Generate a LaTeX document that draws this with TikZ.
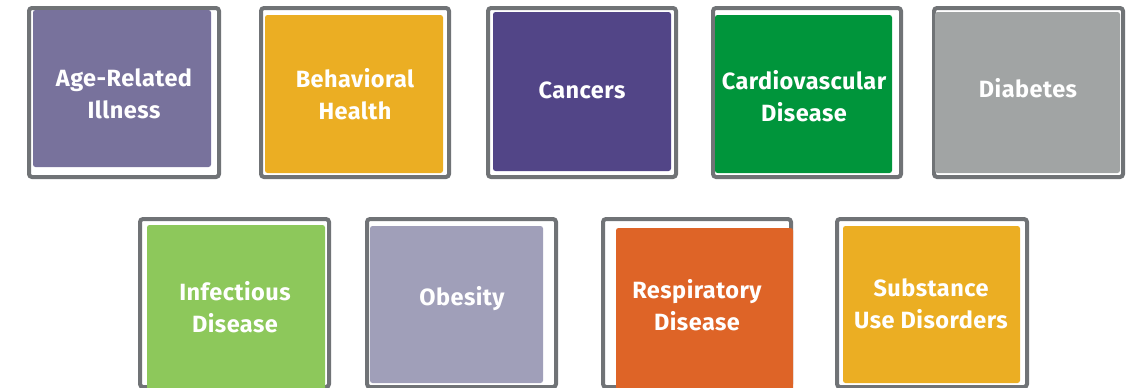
\documentclass[tikz,border=0pt]{standalone}
\usepackage{fontspec}
\setmainfont{Fira Sans}[BoldFeatures={LetterSpace=2}]
\definecolor{outl}{HTML}{707376}
\definecolor{cAge}{HTML}{78729C}
\definecolor{cBeh}{HTML}{EBAE23}
\definecolor{cCan}{HTML}{524587}
\definecolor{cCar}{HTML}{00953B}
\definecolor{cDia}{HTML}{A1A4A4}
\definecolor{cInf}{HTML}{8DC85B}
\definecolor{cObe}{HTML}{A09FB9}
\definecolor{cRes}{HTML}{DE6427}
\definecolor{cSub}{HTML}{EBAE23}
\tikzset{
  frame/.style={draw=outl,line width=4pt,rounded corners=3pt},
  tile/.style={rounded corners=2.5pt},
  lbl/.style={text=white,font=\fontsize{23.5}{32}\selectfont\bfseries,align=center}
}
\begin{document}
\begin{tikzpicture}[x=1pt,y=-1pt]
\useasboundingbox (0,0) rectangle (1127,388);
% top row
\draw[frame] (29,8) rectangle (219,177);
\fill[tile,cAge] (33,10) rectangle (211,167);
\node[lbl] (age) at (124,94) {Age-Related\\Illness};
\draw[frame] (261,8) rectangle (449,177);
\fill[tile,cBeh] (265,15) rectangle (443,173);
\node[lbl] (beh) at (355,94) {Behavioral\\Health};
\draw[frame] (488,8) rectangle (676,177);
\fill[tile,cCan] (493,12) rectangle (671,171);
\node[lbl] (can) at (582,90) {Cancers};
\draw[frame] (713,8) rectangle (901,177);
\fill[tile,cCar] (715,15) rectangle (892,173);
\node[lbl] (car) at (804,96) {Cardiovascular\\Disease};
\draw[frame] (934,8) rectangle (1123,177);
\fill[tile,cDia] (935,12) rectangle (1120,173);
\node[lbl] (dia) at (1028,88) {Diabetes};
% bottom row
\draw[frame] (140,219) rectangle (329,387);
\fill[tile,cInf] (147,225) rectangle (325,392);
\node[lbl] (inf) at (235,307) {Infectious\\Disease};
\draw[frame] (367,219) rectangle (556,387);
\fill[tile,cObe] (370,226) rectangle (543,383);
\node[lbl] (obe) at (462,299) {Obesity};
\draw[frame] (603,219) rectangle (791,387);
\fill[tile,cRes] (616,228) rectangle (793,392);
\node[lbl] (res) at (697,305) {Respiratory\\Disease};
\draw[frame] (837,219) rectangle (1027,387);
\fill[tile,cSub] (843,226) rectangle (1020,383);
\node[lbl] (sub) at (931,304) {Substance\\Use Disorders};
\end{tikzpicture}
\end{document}
